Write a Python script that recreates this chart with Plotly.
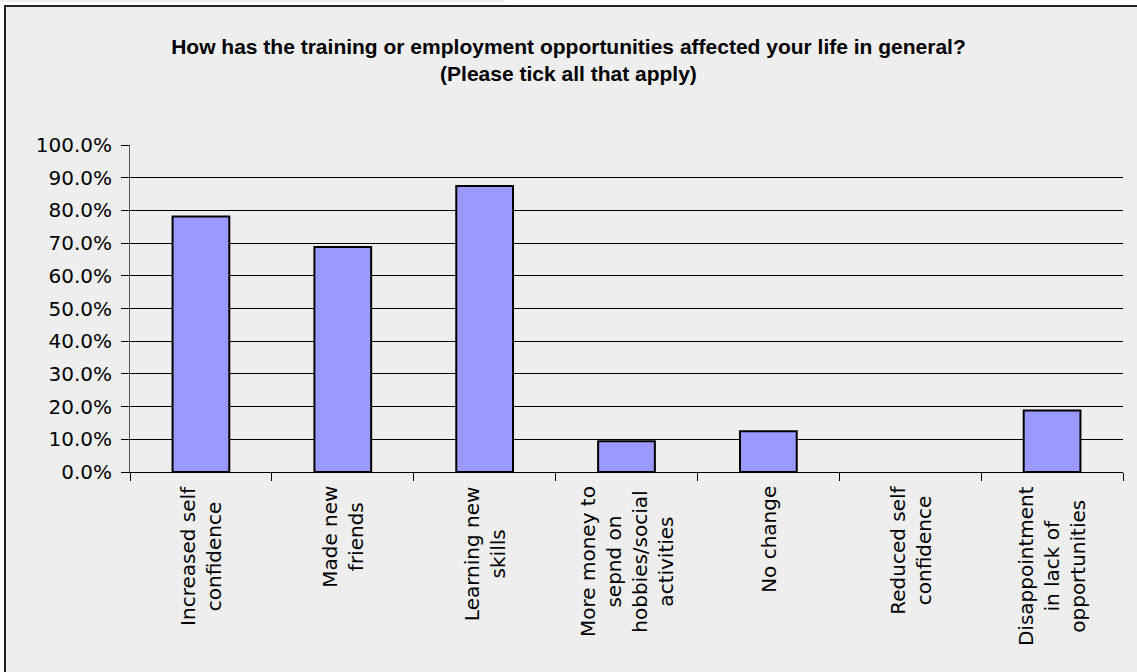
import plotly.graph_objects as go

categories = [
    "Increased self confidence",
    "Made new friends",
    "Learning new skills",
    "More money to sepnd on hobbies/social activities",
    "No change",
    "Reduced self confidence",
    "Disappointment in lack of opportunities",
]
label_lines = [
    ["Increased self", "confidence"],
    ["Made new", "friends"],
    ["Learning new", "skills"],
    ["More money to", "sepnd on", "hobbies/social", "activities"],
    ["No change"],
    ["Reduced self", "confidence"],
    ["Disappointment", "in lack of", "opportunities"],
]
values = [0.781, 0.688, 0.875, 0.094, 0.125, 0.0, 0.188]
y_ticks = [i / 10 for i in range(11)]

W, H = 1137, 672
L, R, T, B = 130, 14, 145, 200
pw, ph = W - L - R, H - T - B

def px_to_paper_x(px):
    return (px - L) / pw

def px_to_paper_y(py):
    return (H - B - py) / ph

BG = "#eeeeee"

fig = go.Figure()
fig.add_trace(go.Bar(
    x=categories, y=values,
    marker=dict(color="#9999ff",
                line=dict(color="#000000", width=[2 if v > 0 else 0 for v in values])),
    width=0.4,
    hoverinfo="x+y",
))

annotations = []
for cat, lines in zip(categories, label_lines):
    annotations.append(dict(
        x=cat, xref="x", y=0, yref="paper",
        text="<br>".join(lines), textangle=-90, align="center",
        xanchor="center", yanchor="top", yshift=-12,
        showarrow=False,
        font=dict(family="DejaVu Sans", size=20, color="#000000"),
    ))

fig.update_layout(
    width=W, height=H,
    margin=dict(l=L, r=R, t=T, b=B, pad=0),
    paper_bgcolor="#ffffff",
    plot_bgcolor=BG,
    showlegend=False,
    title=dict(
        text="How has the training or employment opportunities affected your life in general?<br>(Please tick all that apply)",
        x=0.5, xref="container", xanchor="center",
        y=1 - 54 / H, yref="container", yanchor="top",
        font=dict(family="Liberation Sans", size=21, color="#000000", weight="bold"),
    ),
    xaxis=dict(
        type="category",
        showticklabels=False,
        ticks="outside", ticklen=8, tickcolor="#000000", tickwidth=1,
        tickson="boundaries",
        showline=True, linecolor="#000000", linewidth=1,
        showgrid=False,
        range=[-0.5, len(categories) - 0.5],
    ),
    yaxis=dict(
        range=[0, 1],
        tickvals=y_ticks,
        tickformat=".1%",
        ticks="outside", ticklen=8, tickcolor="#000000", tickwidth=1,
        showline=True, linecolor="#555555", linewidth=1,
        showgrid=True, gridcolor="#000000", gridwidth=1,
        zeroline=False,
        ticklabelstandoff=5,
        tickfont=dict(family="DejaVu Sans", size=20, color="#000000"),
    ),
    annotations=annotations,
    shapes=[
        dict(type="rect", xref="paper", yref="paper", layer="below",
             x0=px_to_paper_x(5), x1=px_to_paper_x(W + 10),
             y0=px_to_paper_y(H + 10), y1=px_to_paper_y(6),
             fillcolor=BG, line=dict(color="#222222", width=2)),
        dict(type="line", xref="paper", yref="paper",
             x0=px_to_paper_x(0), x1=px_to_paper_x(505),
             y0=px_to_paper_y(1), y1=px_to_paper_y(1),
             line=dict(color="#dddddd", width=1)),
    ],
)

fig.write_html("out.html")
